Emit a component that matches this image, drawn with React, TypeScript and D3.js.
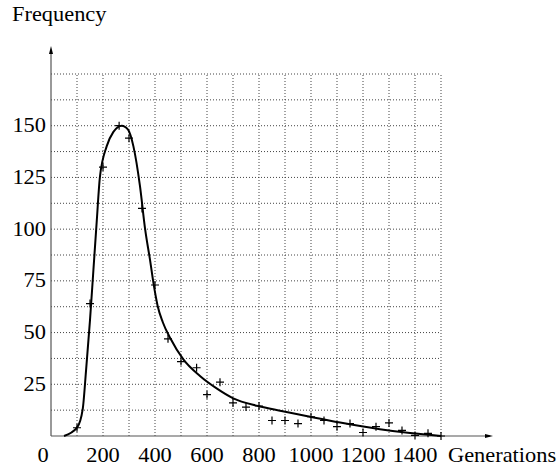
import React, { useRef, useEffect } from 'react'
import { select, scaleLinear, line, curveMonotoneX, range } from 'd3'

// fitted curve
const curveGen = [50, 100, 122, 135, 150, 163, 176, 188, 214, 240, 272, 297, 317, 342, 362, 381, 394, 410, 430, 460, 509, 573, 637, 701, 797, 881, 996, 1112, 1265, 1381, 1500]
const curveFreq = [0, 4, 13, 32, 56, 80, 104, 125, 140, 147, 150, 148, 140, 121, 100, 85, 74, 63, 55, 47, 37, 29, 23, 18.2, 14.5, 12.2, 9.3, 6.5, 3.3, 1.4, 0]

// measured points (+)
const markGen = [100, 150, 200, 262, 300, 350, 400, 450, 500, 560, 600, 650, 700, 750, 800, 850, 900, 950, 1000, 1050, 1100, 1150, 1200, 1250, 1300, 1350, 1400, 1450, 1500]
const markFreq = [4, 64, 130, 150, 144, 110, 73, 47, 36, 33, 20, 26, 16, 14, 14.5, 7.5, 7.5, 6, 9.3, 7.5, 4.5, 6, 1.7, 4.5, 6.3, 2.7, 0.3, 1.3, 0]

const yTicks = [25, 50, 75, 100, 125, 150]
const xTicks = [200, 400, 600, 800, 1000, 1200, 1400]

function App() {
  const containerRef = useRef(null)
  const width = 560,
    height = 467

  useEffect(() => {
    const svg = select(containerRef.current)
    svg.selectAll('*').remove()

    const x = scaleLinear().domain([0, 1500]).range([51, 441])
    const y = scaleLinear().domain([0, 175]).range([436, 74])

    const font = "'Liberation Serif', 'Times New Roman', serif"
    const sx = 1.12

    const label = (tx, ty, txt, anchor) => {
      svg.append('text')
        .attr('transform', `translate(${tx},${ty}) scale(${sx},1)`)
        .attr('font-family', font)
        .attr('font-size', 20)
        .attr('fill', '#000')
        .style('text-anchor', anchor)
        .text(txt)
    }

    // grid
    range(12.5, 175.1, 12.5).forEach(v => {
      svg.append('line')
        .attr('x1', x(0)).attr('x2', x(1500))
        .attr('y1', y(v)).attr('y2', y(v))
        .attr('stroke', '#444')
        .attr('stroke-width', 1)
        .attr('stroke-dasharray', '1,2')
    })
    range(100, 1501, 100).forEach(v => {
      svg.append('line')
        .attr('x1', x(v)).attr('x2', x(v))
        .attr('y1', y(0)).attr('y2', y(175))
        .attr('stroke', '#444')
        .attr('stroke-width', 1)
        .attr('stroke-dasharray', '1,2')
    })

    // axes with arrows
    svg.append('line')
      .attr('x1', x(0)).attr('x2', 490)
      .attr('y1', y(0)).attr('y2', y(0))
      .attr('stroke', '#555').attr('stroke-width', 1.2)
    svg.append('path')
      .attr('d', `M493,${y(0)} L485,${y(0) - 2} L485,${y(0) + 2} Z`)
      .attr('fill', '#000')
    svg.append('line')
      .attr('x1', x(0)).attr('x2', x(0))
      .attr('y1', y(0)).attr('y2', 50)
      .attr('stroke', '#555').attr('stroke-width', 1.2)
    svg.append('path')
      .attr('d', `M${x(0)},46 L${x(0) - 2},54 L${x(0) + 2},54 Z`)
      .attr('fill', '#000')

    // curve
    const lineGen = line()
      .x(d => x(d[0]))
      .y(d => y(d[1]))
      .curve(curveMonotoneX)
    svg.append('path')
      .datum(curveGen.map((g, i) => [g, curveFreq[i]]))
      .attr('d', lineGen)
      .attr('fill', 'none')
      .attr('stroke', '#000')
      .attr('stroke-width', 2)

    // plus markers
    markGen.forEach((g, i) => {
      const cx = x(g), cy = y(markFreq[i])
      svg.append('path')
        .attr('d', `M${cx - 4},${cy} H${cx + 4} M${cx},${cy - 4} V${cy + 4}`)
        .attr('stroke', '#000')
        .attr('stroke-width', 1.2)
    })

    // labels
    yTicks.forEach(v => label(46, y(v) + 6.5, v, 'end'))
    label(43, 462, 0, 'middle')
    xTicks.forEach(v => label(x(v), 462, v, 'middle'))
    label(448, 462, 'Generations', 'start')
    label(12, 21, 'Frequency', 'start')
  }, [])

  return (
    <svg
      ref={containerRef}
      width={width}
      height={height}
      viewBox={`0 0 ${width} ${height}`}
      style={{ position: 'absolute', left: 0, top: 0, background: '#fff' }}
    ></svg>
  )
}

export default App
